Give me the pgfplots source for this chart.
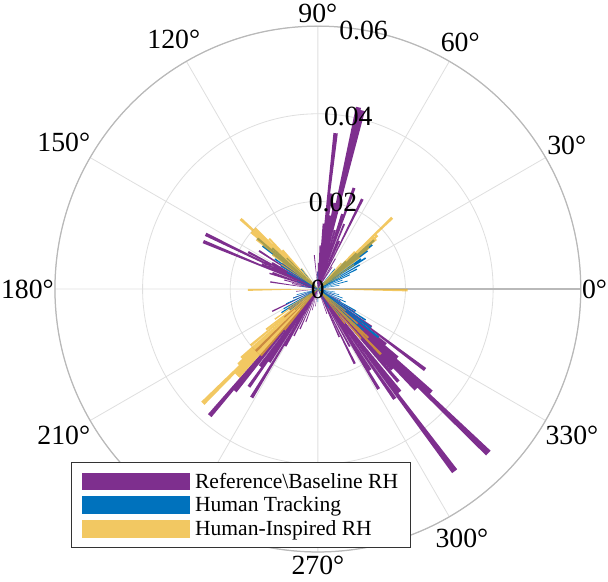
\documentclass[border=0pt]{standalone}
\usepackage{fontspec}
\setmainfont{Liberation Serif}
\usepackage{pgfplots}
\usepackage{pgfplotstable}
\pgfplotsset{compat=1.18}
\usepgfplotslibrary{polar}
\definecolor{purp}{RGB}{126,47,142}
\definecolor{mblue}{RGB}{0,114,189}
\definecolor{myel}{RGB}{237,177,32}

% a = bin centre (deg), r = probability
\pgfplotstableread{
a r
57 0.006
60 0.008
63.7 0.0229
66 0.012
68 0.016
70.3 0.0245
72 0.018
74 0.014
76 0.0420
77.4 0.0425
79 0.020
80.5 0.017
82 0.022
83.5 0.0358
85 0.015
87 0.010
89 0.006
92 0.004
96 0.0078
140 0.008
144 0.010
147 0.016
150 0.012
152 0.018
154 0.0285
156 0.014
157.5 0.0283
160 0.011
162 0.0116
165 0.008
168 0.006
171.5 0.011
186 0.005
200 0.006
206 0.0116
215 0.008
220 0.010
225 0.020
229.5 0.038
231 0.030
233 0.022
234.8 0.0273
236.5 0.020
238.6 0.029
240.5 0.015
243 0.012
246 0.010
250 0.008
255 0.005
262 0.004
290 0.006
294 0.012
296.3 0.019
299 0.015
301.3 0.0267
303 0.022
305 0.0306
306.9 0.052
308.6 0.030
311 0.028
312.8 0.025
314.4 0.032
316.1 0.054
317.7 0.035
319.3 0.024
321 0.020
323.1 0.0306
325 0.015
328 0.010
332 0.006
340 0.004
}\refdata

\pgfplotstableread{
a r
10 0.005
15 0.007
20 0.006
24 0.008
27 0.010
30 0.011
33 0.013
35 0.012
37.6 0.0143
39.2 0.016
41 0.017
43 0.012
45 0.009
50 0.006
90 0.004
130 0.006
135 0.010
138 0.014
140 0.018
142 0.016
145 0.012
148 0.010
152 0.008
160 0.005
170 0.004
195 0.005
200 0.006
205 0.008
210 0.009
213 0.0099
217 0.008
222 0.007
228 0.006
270 0.003
300 0.005
310 0.008
315 0.012
318 0.014
321.5 0.0177
324 0.015
327 0.013
330 0.010
335 0.007
340 0.006
345 0.005
350 0.004
}\trackdata

\pgfplotstableread{
a r
30 0.006
34 0.010
37 0.012
39 0.015
40.5 0.0175
41.9 0.0183
43.8 0.0235
45.5 0.012
48 0.008
128 0.006
132 0.012
134 0.016
136 0.020
137.8 0.0238
139.5 0.020
141 0.018
143 0.013
146 0.010
180.7 0.016
212 0.008
215 0.012
218 0.015
220 0.020
222 0.0235
223.5 0.025
224.8 0.037
226.3 0.027
227.8 0.027
229.3 0.020
231 0.012
308 0.010
311 0.015
314 0.0207
316 0.016
319 0.012
322 0.008
359.3 0.0205
}\inspdata

% draw each bin as a wedge from the origin
\newcommand\polarbars[2]{%
  \pgfplotstablegetrowsof{#1}%
  \pgfmathtruncatemacro\nrows{\pgfplotsretval-1}%
  \gdef\barcoords{(0,0)}%
  \foreach \i in {0,...,\nrows}{%
    \pgfplotstablegetelem{\i}{a}\of{#1}\let\ba\pgfplotsretval
    \pgfplotstablegetelem{\i}{r}\of{#1}\let\br\pgfplotsretval
    \pgfmathsetmacro\blo{\ba-0.8}%
    \pgfmathsetmacro\bhi{\ba+0.8}%
    \xdef\barcoords{\barcoords (\blo,\br) (\bhi,\br) (0,0)}%
  }%
  \edef\tmp{\noexpand\addplot[#2] coordinates {\barcoords};}\tmp
}

\begin{document}
\begin{tikzpicture}
\begin{polaraxis}[
  scale only axis, width=510bp, height=510bp,
  clip=false,
  ymin=0, ymax=0.06,
  scaled y ticks=false,
  xtick={0,30,...,330},
  ytick={0,0.02,0.04,0.06},
  yticklabels={},
  xticklabel={\pgfmathprintnumber[assume math mode=true]{\tick}°},
  xticklabel style={inner xsep=1bp, inner ysep=3.5bp},
  grid=major,
  major grid style={gray!25, line width=0.8bp},
  axis line style={gray!55, line width=1.2bp},
  major tick length=0pt,
  tick label style={font=\fontsize{27}{30}\selectfont},
  legend style={at={(axis description cs:0.03,0.171)}, anchor=north west,
    draw=black!80, line width=1.2bp, fill=white,
    font=\fontsize{21}{23}\selectfont,
    inner xsep=10bp, inner ysep=8bp, row sep=3bp, column sep=3bp,
    nodes={inner sep=2bp}},
  legend cell align=left,
  legend image code/.code={\fill[#1] (0bp,-8.5bp) rectangle (105bp,8.5bp);},
]
\polarbars{\refdata}{fill=purp, draw=none}
\polarbars{\trackdata}{fill=mblue, draw=none}
\polarbars{\inspdata}{fill=myel, fill opacity=0.7, draw=none}
\node[font=\fontsize{27}{30}\selectfont] at (axis cs:0,0) {0};
\node[font=\fontsize{27}{30}\selectfont] at (axis cs:80,0.02) {0.02};
\node[font=\fontsize{27}{30}\selectfont] at (axis cs:80,0.04) {0.04};
\node[font=\fontsize{27}{30}\selectfont] at (axis cs:80,0.06) {0.06};
\legend{Reference\textbackslash Baseline RH, Human Tracking, Human-Inspired RH}
\end{polaraxis}
\path (current bounding box.south) ++(0,-3bp);
\end{tikzpicture}
\end{document}
